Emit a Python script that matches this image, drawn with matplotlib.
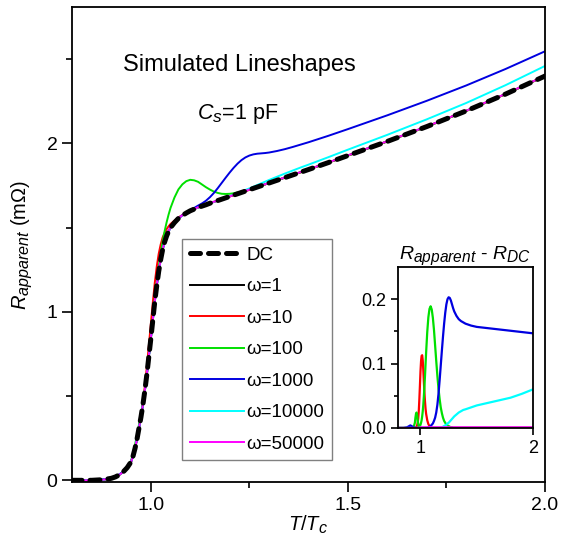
import matplotlib
matplotlib.use("Agg")
import matplotlib.pyplot as plt
import matplotlib._mathtext as mathtext_internals
import numpy as np

# Origin-style subscripts are larger than the mathtext default
mathtext_internals.SHRINK_FACTOR = 0.8

plt.rcParams['font.family'] = ['Liberation Sans', 'DejaVu Sans']
plt.rcParams['mathtext.fontset'] = 'custom'
plt.rcParams['mathtext.rm'] = 'Liberation Sans'
plt.rcParams['mathtext.it'] = 'Liberation Sans:italic'

# reduced temperature grid
T = ([0.80, 0.85, 0.88, 0.90, 0.91, 0.92, 0.93, 0.94] +
     [0.95, 0.955, 0.96, 0.965, 0.97, 0.975, 0.98, 0.985, 0.99, 0.995, 1.00,
      1.005, 1.01, 1.015, 1.02, 1.025, 1.03, 1.035, 1.04, 1.045, 1.05] +
     [1.06, 1.07, 1.08, 1.09, 1.10, 1.11, 1.12, 1.13, 1.14, 1.15, 1.16, 1.17,
      1.18, 1.19, 1.20, 1.21, 1.22, 1.23, 1.24, 1.25, 1.26, 1.27, 1.28, 1.29, 1.30] +
     [1.32, 1.34, 1.36, 1.38, 1.40, 1.45, 1.50, 1.60, 1.70, 1.80, 1.90, 2.00])

# DC resistance (mOhm)
R_dc = ([0.0, 0.0, 0.004, 0.012, 0.02, 0.032, 0.05, 0.075] +
        [0.11, 0.145, 0.19, 0.245, 0.31, 0.375, 0.45, 0.535, 0.63, 0.735, 0.84,
         0.95, 1.06, 1.155, 1.24, 1.31, 1.37, 1.415, 1.45, 1.478, 1.50] +
        [1.53, 1.555, 1.572, 1.587, 1.60, 1.61, 1.62, 1.628, 1.636, 1.645, 1.653, 1.661,
         1.669, 1.677, 1.685, 1.693, 1.701, 1.709, 1.717, 1.725, 1.733, 1.741, 1.749, 1.757, 1.765] +
        [1.781, 1.797, 1.813, 1.829, 1.845, 1.886, 1.928, 2.012, 2.100, 2.193, 2.293, 2.40])

# R_apparent - R_DC for each frequency
d_w1 = [0.0] * 66
d_w10 = ([0.0] * 8 +
         [0.0, 0.0, 0.001, 0.002, 0.004, 0.008, 0.015, 0.027, 0.045, 0.066, 0.088,
          0.104, 0.112, 0.113, 0.105, 0.09, 0.072, 0.055, 0.041, 0.03, 0.022] +
         [0.012, 0.006, 0.003, 0.001] + [0.0] * 21 +
         [0.0] * 12)
d_w100 = ([0.0] * 7 + [0.002] +
          [0.008, 0.016, 0.022, 0.024, 0.02, 0.012, 0.006, 0.003, 0.002, 0.003, 0.005,
           0.008, 0.012, 0.018, 0.026, 0.036, 0.049, 0.064, 0.081, 0.099, 0.117] +
          [0.149, 0.172, 0.185, 0.189, 0.184, 0.171, 0.152, 0.128, 0.104, 0.081, 0.061, 0.045,
           0.032, 0.023, 0.016, 0.011, 0.008, 0.005, 0.004, 0.003, 0.002, 0.001, 0.001, 0.0, 0.0] +
          [0.0] * 12)
d_w1000 = ([0.0, 0.0, 0.001, 0.003, 0.004, 0.003, 0.002, 0.001] +
           [0.0] * 21 +
           [0.0, 0.001, 0.002, 0.003, 0.005, 0.007, 0.011, 0.016, 0.024, 0.036, 0.053, 0.074,
            0.097, 0.12, 0.142, 0.162, 0.179, 0.192, 0.2, 0.203, 0.202, 0.198, 0.192, 0.186, 0.181] +
           [0.174, 0.169, 0.166, 0.164, 0.162, 0.159, 0.157, 0.155, 0.153, 0.151, 0.149, 0.147])
d_w10000 = ([0.0] * 8 + [0.0] * 21 +
            [0.0] * 12 +
            [0.001, 0.001, 0.002, 0.003, 0.004, 0.005, 0.007, 0.008, 0.010, 0.012, 0.014, 0.016, 0.018] +
            [0.021, 0.024, 0.026, 0.028, 0.029, 0.032, 0.035, 0.039, 0.043, 0.047, 0.053, 0.060])
d_w50000 = [0.0] * 18 + [0.001] * 11 + [0.001] * 25 + [0.001] * 12

labels = ['ω=1', 'ω=10', 'ω=100', 'ω=1000', 'ω=10000', 'ω=50000']
colors = ['black', '#ff0000', '#00e000', '#0000e0', '#00ffff', '#ff00ff']
diffs = [d_w1, d_w10, d_w100, d_w1000, d_w10000, d_w50000]

T = np.array(T)
R_dc = np.array(R_dc)

fig = plt.figure(figsize=(5.65, 5.38), dpi=100)
ax = fig.add_axes([0.1274, 0.1041, 0.8372, 0.8829])

handles = []
for lab, c, d in zip(labels, colors, diffs):
    h, = ax.plot(T, R_dc + np.array(d), color=c, lw=1.4, label=lab)
    handles.append(h)
hdc, = ax.plot(T, R_dc, color='black', lw=3.6, dashes=(2.0, 1.6),
               dash_capstyle='round', label='DC', zorder=5)

ax.set_xlim(0.8, 2.0)
ax.set_ylim(-0.01, 2.81)
ax.set_xticks([1.0, 1.5, 2.0])
ax.set_xticklabels(['1.0', '1.5', '2.0'])
ax.set_xticks([1.25, 1.75], minor=True)
ax.set_yticks([0, 1, 2])
ax.set_yticks([0.5, 1.5, 2.5], minor=True)
ax.tick_params(which='major', length=7, width=1.2, labelsize=14, direction='out')
ax.tick_params(which='minor', length=4, width=1.2, direction='out')
for s in ax.spines.values():
    s.set_linewidth(1.3)

ax.set_xlabel(r'$T/T_c$', fontsize=14.5, labelpad=0)
ax.set_ylabel(r'$R_{apparent}$ (m$\Omega$)', fontsize=14.5, labelpad=8)

ax.text(0.353, 0.878, 'Simulated Lineshapes', transform=ax.transAxes,
        fontsize=17, ha='center', va='center')
ax.text(0.351, 0.775, r'$C_s$=1 pF', transform=ax.transAxes,
        fontsize=15.5, ha='center', va='center')

leg = ax.legend([hdc] + handles, ['DC'] + labels, loc='upper left',
                bbox_to_anchor=(0.2326, 0.5116), borderaxespad=0,
                fontsize=13.5, handlelength=2.9, handletextpad=0.15,
                labelspacing=0.77, fancybox=False, framealpha=1,
                edgecolor='#808080', borderpad=0.4)
leg.get_frame().set_linewidth(1.0)

# inset: R_apparent - R_DC
ins = fig.add_axes([0.7044, 0.2045, 0.2390, 0.2992])
for lab, c, d in zip(labels, colors, diffs):
    ins.plot(T, d, color=c, lw=1.6)
ins.set_xlim(0.8, 2.0)
ins.set_ylim(0, 0.25)
ins.set_xticks([1, 2])
ins.set_yticks([0.0, 0.1, 0.2])
ins.set_yticklabels(['0.0', '0.1', '0.2'])
ins.set_yticks([0.05, 0.15], minor=True)
ins.tick_params(which='major', length=5, width=1.2, labelsize=13, direction='out')
ins.tick_params(which='minor', length=3, width=1.2, direction='out')
for s in ins.spines.values():
    s.set_linewidth(1.3)
ins.set_title(r'$R_{apparent}$ - $R_{DC}$', fontsize=14, pad=4)

fig.savefig('out.png', dpi=100)
